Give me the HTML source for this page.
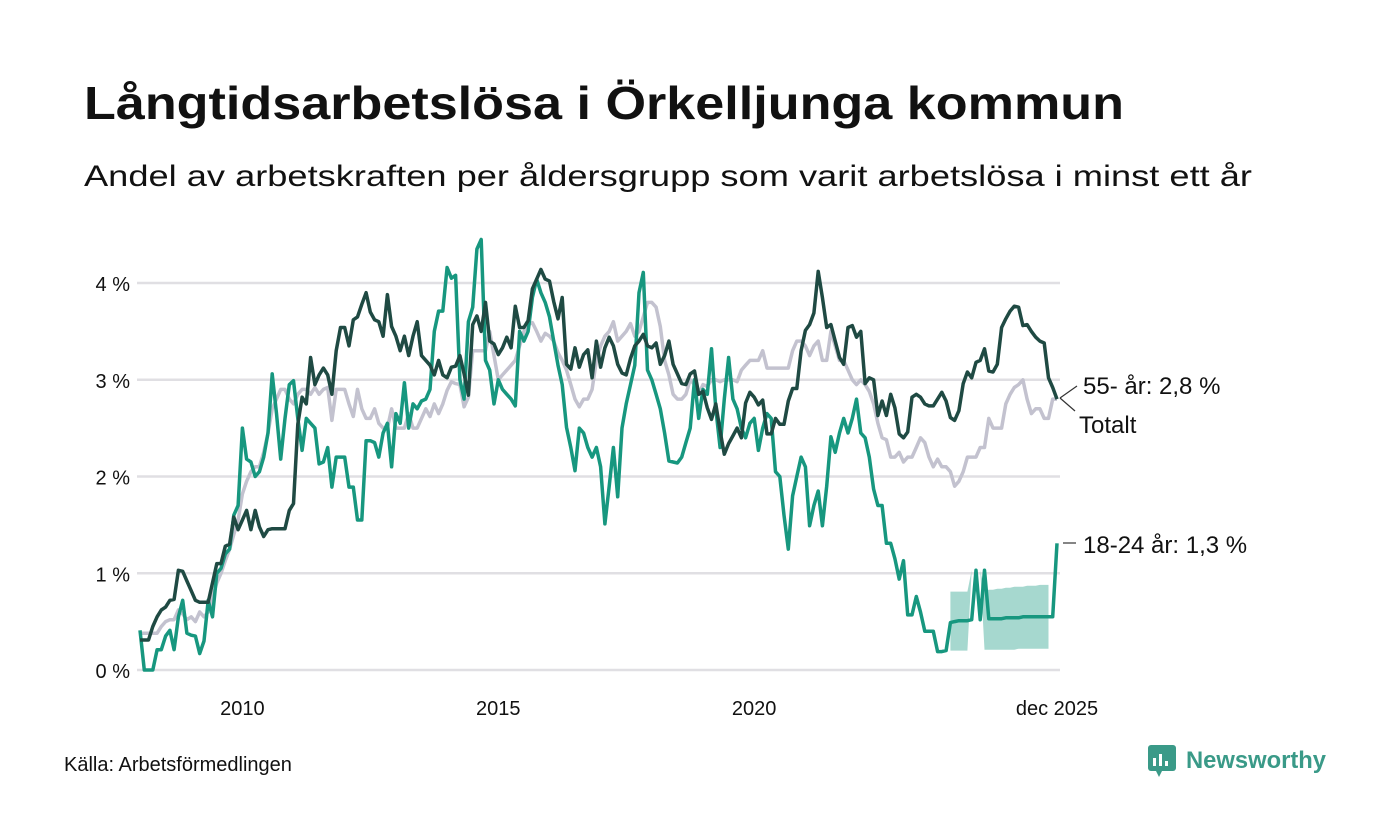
<!DOCTYPE html>
<html><head><meta charset="utf-8"><style>
html,body{margin:0;padding:0;background:#fff;}
svg{display:block;font-family:"Liberation Sans","DejaVu Sans",sans-serif;}
</style></head><body>
<svg id="chart" width="1400" height="840" viewBox="0 0 1400 840">
<text x="84" y="119" font-size="46" font-weight="bold" fill="#111" textLength="1040" lengthAdjust="spacingAndGlyphs">Långtidsarbetslösa i Örkelljunga kommun</text>
<text x="84" y="186" font-size="30" fill="#111" textLength="1168" lengthAdjust="spacingAndGlyphs">Andel av arbetskraften per åldersgrupp som varit arbetslösa i minst ett år</text>
<g id="grid"></g>
<g id="yticks"></g>
<g id="xticks"></g>
<g id="series"></g>
<g>
<line x1="1060" y1="398" x2="1077" y2="386" stroke="#333" stroke-width="1.2"/>
<text x="1083" y="394" font-size="24" fill="#111">55- år: 2,8 %</text>
<line x1="1060" y1="398" x2="1075" y2="411" stroke="#333" stroke-width="1.2"/>
<text x="1079" y="433" font-size="24" fill="#111">Totalt</text>
<line x1="1063" y1="543" x2="1076" y2="543" stroke="#333" stroke-width="1.2"/>
<text x="1083" y="553" font-size="24" fill="#111">18-24 år: 1,3 %</text>
</g>
<text x="64" y="771" font-size="20" fill="#111">Källa: Arbetsförmedlingen</text>
<g>
<rect x="1148" y="745" width="28" height="26" rx="3" fill="#3a9a88"/>
<polygon points="1156,771 1162,771 1159,777" fill="#3a9a88"/>
<rect x="1153" y="758" width="3" height="8" fill="#fff"/><rect x="1159" y="754" width="3" height="12" fill="#fff"/><rect x="1165" y="761" width="3" height="5" fill="#fff"/>
<text x="1186" y="768" font-size="24" font-weight="bold" fill="#3a9a88" textLength="140" lengthAdjust="spacingAndGlyphs">Newsworthy</text>
</g>
</svg>
<script>
const yTicks = [0,1,2,3,4];
const yTickLabels = ["0 %","1 %","2 %","3 %","4 %"];
const xTickMonths = [24,84,144,215];
const xTickLabels = ["2010","2015","2020","dec 2025"];
const totalVals = [].concat(
[.38,.38,.38,.38,.38,.45,.5,.52,.52,.62,.58,.52],
[.55,.5,.6,.55,.6,.75,.9,1.0,1.13,1.25,1.4,1.55],
[1.82,1.95,2.05,2.1,2.1,2.25,2.45,2.7,2.8,2.9,2.9,2.8],
[2.75,2.85,2.9,2.9,2.85,2.92,2.85,2.9,2.92,2.58,2.9,2.9],
[2.9,2.75,2.62,2.9,2.7,2.6,2.6,2.7,2.55,2.5,2.5,2.7],
[2.5,2.5,2.5,2.65,2.5,2.5,2.6,2.7,2.62,2.75,2.65,2.75],
[2.89,2.98,2.96,2.95,2.72,2.82,3.3,3.3,3.3,3.3,3.5,3.25],
[3.0,3.05,3.1,3.15,3.2,3.35,3.5,3.57,3.59,3.5,3.4,3.48],
[3.45,3.4,3.28,3.2,3.1,2.95,2.8,2.72,2.8,2.8,2.9,3.2],
[3.35,3.45,3.5,3.6,3.4,3.45,3.5,3.58,3.45,3.5,3.65,3.8],
[3.8,3.75,3.55,3.2,3.05,2.85,2.8,2.8,2.85,3.0,2.95,2.85],
[2.95,2.93,3.0,3.0,2.98,3.0,3.0,3.0,2.98,3.1,3.15,3.2],
[3.2,3.2,3.3,3.12,3.12,3.12,3.12,3.12,3.12,3.3,3.4,3.4],
[3.35,3.25,3.35,3.4,3.2,3.2,3.5,3.35,3.2,3.2,3.1,3.0],
[2.95,3.0,2.95,2.88,2.75,2.55,2.4,2.38,2.2,2.2,2.25,2.15],
[2.2,2.2,2.3,2.4,2.35,2.2,2.1,2.18,2.1,2.1,2.05,1.9],
[1.95,2.05,2.2,2.2,2.2,2.3,2.3,2.6,2.5,2.5,2.5,2.75],
[2.85,2.92,2.95,3.0,2.8,2.65,2.7,2.7,2.6,2.6,2.8,2.8]);
const age55Vals = [].concat(
[.31,.31,.31,.45,.55,.62,.65,.72,.73,1.03,1.02,.92],
[.82,.72,.7,.7,.7,.9,1.1,1.1,1.28,1.3,1.58,1.45],
[1.55,1.65,1.45,1.65,1.48,1.38,1.45,1.46,1.46,1.46,1.46,1.65],
[1.72,2.54,2.82,2.75,3.23,2.95,3.05,3.12,3.05,2.85,3.3,3.54],
[3.54,3.35,3.62,3.65,3.78,3.9,3.7,3.62,3.6,3.45,3.88,3.55],
[3.45,3.3,3.45,3.25,3.45,3.6,3.25,3.2,3.15,3.05,3.2,3.05],
[3.02,3.13,3.14,3.25,3.06,2.84,3.57,3.66,3.5,3.8,3.4,3.37],
[3.26,3.33,3.44,3.33,3.76,3.54,3.54,3.61,3.94,4.04,4.14,4.04],
[4.02,3.81,3.63,3.85,3.16,3.11,3.33,3.13,3.26,3.31,3.02,3.4],
[3.13,3.33,3.44,3.35,3.16,3.07,3.05,3.22,3.35,3.4,3.47,3.35],
[3.33,3.38,3.16,3.25,3.4,3.16,3.06,2.96,2.95,3.06,3.09,2.85],
[2.88,2.71,2.59,2.75,2.47,2.23,2.34,2.42,2.5,2.4,2.76,2.87],
[2.82,2.74,2.79,2.44,2.44,2.6,2.54,2.54,2.78,2.91,2.91,3.3],
[3.51,3.57,3.69,4.12,3.85,3.54,3.57,3.4,3.23,3.16,3.54,3.56],
[3.44,3.5,2.96,3.02,3.0,2.63,2.78,2.63,2.85,2.71,2.44,2.4],
[2.46,2.82,2.85,2.82,2.75,2.73,2.73,2.8,2.87,2.78,2.61,2.58],
[2.68,2.96,3.08,3.02,3.18,3.2,3.32,3.09,3.08,3.16,3.54,3.63],
[3.71,3.76,3.75,3.56,3.57,3.5,3.44,3.4,3.38,3.02,2.92,2.8]);
const age1824Vals = [].concat(
[.41,0,0,0,.21,.21,.35,.41,.21,.55,.72,.38],
[.36,.35,.17,.3,.72,.55,1.0,1.05,1.2,1.25,1.6,1.7],
[2.5,2.18,2.15,2.0,2.05,2.2,2.45,3.06,2.65,2.18,2.6,2.95],
[2.99,2.6,2.27,2.6,2.55,2.5,2.13,2.15,2.3,1.89,2.2,2.2],
[2.2,1.89,1.89,1.55,1.55,2.37,2.37,2.35,2.2,2.45,2.55,2.1],
[2.65,2.55,2.97,2.5,2.75,2.7,2.78,2.8,2.9,3.5,3.71,3.71],
[4.16,4.05,4.08,3.0,2.8,3.6,3.75,4.35,4.45,3.2,3.1,2.75],
[3.0,2.9,2.85,2.8,2.73,3.5,3.4,3.5,3.85,4.04,3.9,3.8],
[3.65,3.4,3.15,2.95,2.51,2.3,2.06,2.5,2.45,2.3,2.2,2.3],
[2.1,1.51,1.9,2.3,1.79,2.5,2.75,2.95,3.15,3.9,4.11,3.1],
[3.0,2.85,2.7,2.45,2.16,2.15,2.14,2.2,2.35,2.5,3.0,2.6],
[2.9,2.85,3.32,2.7,2.3,2.8,3.23,2.8,2.7,2.5,2.4,2.55],
[2.6,2.27,2.5,2.65,2.6,2.05,2.0,1.6,1.25,1.8,2.0,2.2],
[2.1,1.49,1.7,1.85,1.49,1.9,2.41,2.25,2.45,2.6,2.45,2.6],
[2.8,2.45,2.4,2.2,1.87,1.7,1.7,1.31,1.31,1.15,.94,1.13],
[.57,.57,.76,.6,.4,.4,.4,.19,.19,.2,.49,.5],
[.51,.51,.51,.52,1.03,.52,1.03,.53,.53,.53,.53,.54],
[.54,.54,.54,.55,.55,.55,.55,.55,.55,.55,.55,1.31]);
const bandStart = 190;
const bandLow = [.2,.2,.2,.2,.2,1.03,.52,1.03,.21,.21,.21,.21,.21,.21,.21,.21,.22,.22,.22,.22,.22,.22,.22,.22];
const bandHigh = [.81,.81,.81,.81,.81,1.03,.52,1.03,.82,.83,.83,.84,.84,.85,.85,.86,.86,.86,.87,.87,.87,.88,.88,.88];

const NS = "http://www.w3.org/2000/svg";
const X0 = 140, X1 = 1057, Y0 = 670, PER = 96.75;
function xs(i){ return X0 + i*(X1-X0)/215; }
function ys(v){ return Y0 - v*PER; }
function mk(tag, attrs, parent){ const e=document.createElementNS(NS,tag); for(const k in attrs) e.setAttribute(k,attrs[k]); parent.appendChild(e); return e; }

const grid=document.getElementById('grid'), yt=document.getElementById('yticks'), xt=document.getElementById('xticks'), ser=document.getElementById('series');
yTicks.forEach((v,i)=>{
  const l=mk('line',{x1:137,x2:1060,y1:ys(v),y2:ys(v),stroke:'#e0dfe3','stroke-width':2.5},grid);
  
  
  const t=mk('text',{x:130,y:ys(v)+8,'font-size':20,fill:'#111','text-anchor':'end'},yt);
  t.textContent=yTickLabels[i];
  
  
});
xTickMonths.forEach((m,i)=>{
  const t=mk('text',{x:xs(m),y:715,'font-size':20,fill:'#111','text-anchor':'middle'},xt);
  t.textContent=xTickLabels[i];
  
  
});
// band
let bp='';
bandHigh.forEach((v,i)=>{ bp+=(i?'L':'M')+xs(bandStart+i).toFixed(1)+','+ys(v).toFixed(1); });
for(let i=bandLow.length-1;i>=0;i--) bp+='L'+xs(bandStart+i).toFixed(1)+','+ys(bandLow[i]).toFixed(1);
const band=mk('path',{d:bp+'Z',fill:'#a6d8cf'},ser);


function line(vals,color,name){
  let d=''; vals.forEach((v,i)=>{ d+=(i?'L':'M')+xs(i).toFixed(1)+','+ys(v).toFixed(1); });
  const p=mk('path',{d:d,fill:'none',stroke:color,'stroke-width':3.5,'stroke-linejoin':'round'},ser);
  
  
}
line(totalVals,'#c3c2cf','line-totalt');
line(age1824Vals,'#17977f','line-18-24');
line(age55Vals,'#1f4a43','line-55');
</script>
</body></html>
